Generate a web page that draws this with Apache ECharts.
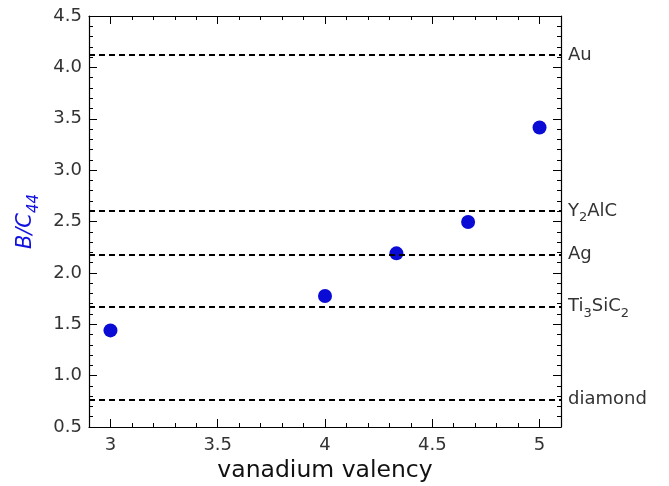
<!DOCTYPE html>
<html><head><meta charset="utf-8">
<script src="https://cdn.jsdelivr.net/npm/echarts@6/dist/echarts.min.js"></script>
<style>html,body{margin:0;padding:0;background:#fff}#c{width:669px;height:486px}</style>
</head><body><div id="c"></div>
<script>
const valency = [3, 4, 4.333, 4.667, 5];
const ratio = [1.44, 1.775, 2.19, 2.495, 3.415];
const refNames = ['{n|Au}', '{n|Y}{s|2}{n|AlC}', '{n|Ag}', '{n|Ti}{s|3}{n|SiC}{s|2}', '{n|diamond}'];
const refValues = [4.115, 2.595, 2.18, 1.67, 0.77];
const xMajor = [3, 3.5, 4, 4.5, 5];

const font = 'DejaVu Sans';
const chart = echarts.init(document.getElementById('c'));
const labelRich = {
  n: {fontSize: 18, color: '#333', fontFamily: font},
  s: {fontSize: 13, color: '#333', fontFamily: font, padding: [13, 0, 0, 0]}
};
const hidden = {show: false};
function xAx(pos, showLabels, major) {
  const a = {
    type: 'value', min: 2.9, max: 5.1, position: pos, offset: 0,
    axisLine: {show: major, onZero: false, lineStyle: {color: '#000', width: 1.2}},
    splitLine: hidden,
    axisTick: {show: true, inside: true, length: major ? 8 : 4, lineStyle: {color: '#000', width: 1}},
    axisLabel: {show: showLabels, color: '#333', fontSize: 18, fontFamily: font, margin: 9,
      formatter: v => String(v)}
  };
  if (major) {
    a.axisTick.customValues = xMajor;
    a.axisLabel.customValues = xMajor;
  } else {
    a.interval = 0.1;
  }
  if (showLabels) {
    a.name = 'vanadium valency';
    a.nameLocation = 'middle';
    a.nameGap = 30;
    a.nameTextStyle = {fontSize: 23.5, color: '#111', fontFamily: font};
  }
  return a;
}
function yAx(pos, showLabels) {
  const a = {
    type: 'value', min: 0.5, max: 4.5, interval: 0.5, position: pos, offset: 0,
    axisLine: {show: true, onZero: false, lineStyle: {color: '#000', width: 1.2}},
    splitLine: hidden,
    axisTick: {show: true, inside: true, length: 8, lineStyle: {color: '#000', width: 1}},
    minorTick: {show: true, splitNumber: 5, length: 4, lineStyle: {color: '#000', width: 1}},
    axisLabel: {show: showLabels, color: '#333', fontSize: 18, fontFamily: font, margin: 7,
      formatter: v => v.toFixed(1)}
  };
  if (showLabels) {
    a.name = '{i|B/C}{s|44}';
    a.nameLocation = 'middle';
    a.nameRotate = 90;
    a.nameGap = 47;
    a.nameTextStyle = {rich: {
      i: {fontSize: 21, color: '#1010e0', fontStyle: 'italic', fontFamily: font},
      s: {fontSize: 15, color: '#1010e0', fontStyle: 'italic', fontFamily: font, padding: [18, 0, 0, 0]}
    }};
  }
  return a;
}
chart.setOption({
  animation: false,
  backgroundColor: '#fff',
  grid: {left: 89, right: 108, top: 16, bottom: 59, containLabel: false, outerBoundsMode: 'none'},
  xAxis: [xAx('bottom', true, true), xAx('bottom', false, false), xAx('top', false, true), xAx('top', false, false)],
  yAxis: [yAx('left', true), yAx('right', false)],
  series: [{
    type: 'scatter', xAxisIndex: 0, yAxisIndex: 0,
    data: valency.map((v, i) => [v, ratio[i]]),
    symbolSize: 14,
    itemStyle: {color: '#0b0bd6', opacity: 1},
    markLine: {
      silent: true, symbol: ['none', 'none'],
      lineStyle: {color: '#000', type: [6, 4], width: 2},
      label: {show: true, position: 'end', distance: 7,
        formatter: p => refNames[p.dataIndex], rich: labelRich},
      data: refValues.map(v => ({yAxis: v}))
    }
  }]
});
</script></body></html>
